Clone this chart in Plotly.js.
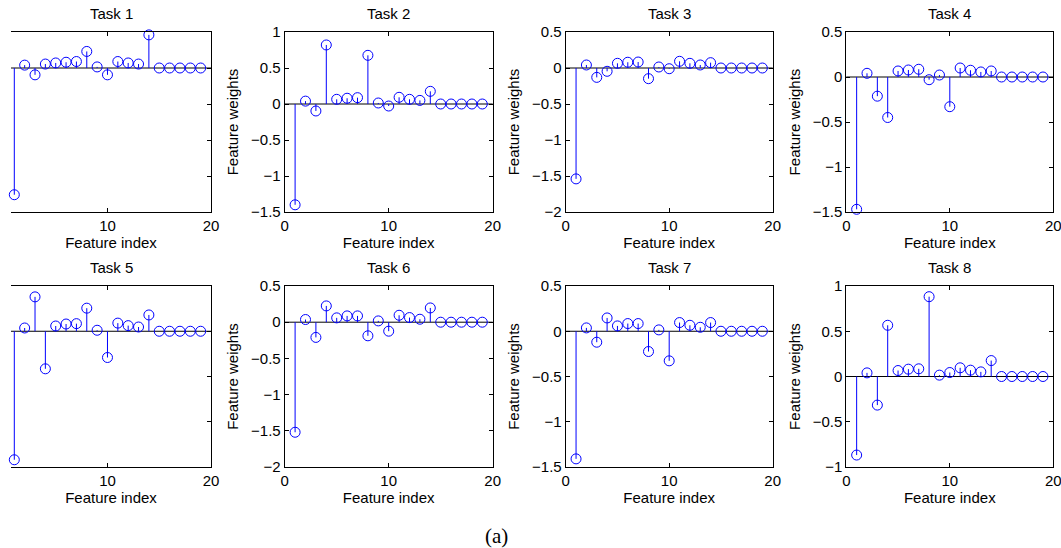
<!DOCTYPE html>
<html>
<head>
<meta charset="utf-8">
<script src="https://cdn.plot.ly/plotly-3.0.1.min.js"></script>
<style>html,body{margin:0;padding:0;background:#fff;}#chart{width:1061px;height:548px;}</style>
</head>
<body>
<div id="chart"></div>
<script>
// ---- data ----
const featureIndex = [1,2,3,4,5,6,7,8,9,10,11,12,13,14,15,16,17,18,19];
const task1 = [-1.76,0.04,-0.095,0.055,0.07,0.08,0.09,0.23,0.015,-0.095,0.09,0.07,0.055,0.46,0,0,0,0,0];
const task2 = [-1.40,0.04,-0.097,0.82,0.065,0.08,0.088,0.676,0.014,-0.028,0.093,0.065,0.05,0.176,0,0,0,0,0];
const task3 = [-1.54,0.042,-0.13,-0.046,0.065,0.08,0.083,-0.148,0.014,-0.01,0.093,0.065,0.042,0.074,0,0,0,0,0];
const task4 = [-1.47,0.041,-0.213,-0.45,0.067,0.078,0.086,-0.03,0.022,-0.33,0.10,0.075,0.056,0.067,0,0,0,0,0];
const task5 = [-1.42,0.036,0.38,-0.415,0.058,0.08,0.084,0.255,0.011,-0.29,0.09,0.062,0.047,0.18,0,0,0,0,0];
const task6 = [-1.52,0.037,-0.21,0.225,0.06,0.087,0.087,-0.188,0.018,-0.124,0.096,0.064,0.041,0.197,0,0,0,0,0];
const task7 = [-1.41,0.037,-0.121,0.147,0.059,0.085,0.085,-0.224,0.015,-0.327,0.096,0.066,0.044,0.096,0,0,0,0,0];
const task8 = [-0.868,0.04,-0.316,0.566,0.066,0.081,0.085,0.882,0.015,0.044,0.096,0.07,0.051,0.176,0,0,0,0,0];
const taskTitles = ['Task 1','Task 2','Task 3','Task 4','Task 5','Task 6','Task 7','Task 8'];
const yLimits = [[-2,0.5],[-1.5,1],[-2,0.5],[-1.5,0.5],[-1.5,0.5],[-2,0.5],[-1.5,0.5],[-1,1]];
const xTitle = 'Feature index';
const yTitle = 'Feature weights';
const caption = '(a)';

// ---- layout ----
const W = 1061, H = 548;
const colPx = [[11,211],[284.7,492.7],[565.7,772.7],[846.3,1053.3]];
const rowPx = [[32,212],[286,467]];
const tasks = [task1,task2,task3,task4,task5,task6,task7,task8];
const blue = '#0000ff';
const font = {family:'Liberation Sans, Arial, sans-serif', size:15, color:'#000'};

const data = [];
const layout = {
  width:W, height:H, margin:{l:0,r:0,t:0,b:0},
  paper_bgcolor:'#fff', plot_bgcolor:'#fff',
  showlegend:false, font:font, shapes:[], annotations:[]
};

tasks.forEach((vals, i) => {
  const r = Math.floor(i/4), c = i%4;
  const n = i+1;
  const xa = n===1 ? 'xaxis' : 'xaxis'+n;
  const ya = n===1 ? 'yaxis' : 'yaxis'+n;
  const xr = n===1 ? 'x' : 'x'+n;
  const yr = n===1 ? 'y' : 'y'+n;
  const cropped = c===0;
  data.push({
    type:'scatter', mode:'markers', x:featureIndex, y:vals, xaxis:xr, yaxis:yr,
    marker:{symbol:'circle-open', size:10, color:blue, line:{width:1, color:blue}},
    error_y:{type:'data', symmetric:false,
      array: vals.map(v => v<0 ? -v : 0),
      arrayminus: vals.map(v => v>0 ? v : 0),
      width:0, thickness:1, color:blue},
    hoverinfo:'skip', cliponaxis:false
  });
  layout[xa] = {
    domain:[colPx[c][0]/W, colPx[c][1]/W], anchor:yr,
    range: cropped ? [0.68,20] : [0,20], tickvals:[0,10,20],
    showline:true, mirror:'ticks', linecolor:'#000', linewidth:1,
    ticks:'inside', ticklen:4, tickcolor:'#000', showgrid:false, zeroline:false,
    tickfont:font, fixedrange:true, ticklabeloverflow:'allow',
    title:{text:xTitle, font:font, standoff:4}
  };
  const yl = yLimits[i];
  const yt = []; for (let v=yl[0]; v<=yl[1]+1e-9; v+=0.5) yt.push(Math.round(v*10)/10);
  layout[ya] = {
    domain:[1-rowPx[r][1]/H, 1-rowPx[r][0]/H], anchor:xr,
    range:yl, tickvals:yt,
    showline:true, mirror: cropped ? false : 'ticks', side: cropped ? 'right' : 'left',
    linecolor:'#000', linewidth:1,
    ticks:'inside', ticklen:4, tickcolor:'#000', showgrid:false, zeroline:false,
    showticklabels: !cropped, tickfont:font, fixedrange:true, ticklabeloverflow:'allow',
    title: cropped ? {text:''} : {text:yTitle, font:font, standoff:8}
  };
  layout.shapes.push({type:'line', xref:xr+' domain', yref:yr, x0:0, x1:1, y0:0, y1:0,
    line:{color:'#000', width:1}, layer:'below'});
  layout.annotations.push({text:taskTitles[i], xref:xr+' domain', yref:yr+' domain',
    x:0.5, y:1, xanchor:'center', yanchor:'bottom', yshift:8, showarrow:false, font:font});
});
layout.annotations.push({text:caption, xref:'paper', yref:'paper', x:496/W, y:1-536/H,
  xanchor:'center', yanchor:'middle', showarrow:false,
  font:{family:'Liberation Serif, Times New Roman, serif', size:21, color:'#000'}});

Plotly.newPlot('chart', data, layout, {displayModeBar:false, staticPlot:true});
</script>
</body>
</html>
